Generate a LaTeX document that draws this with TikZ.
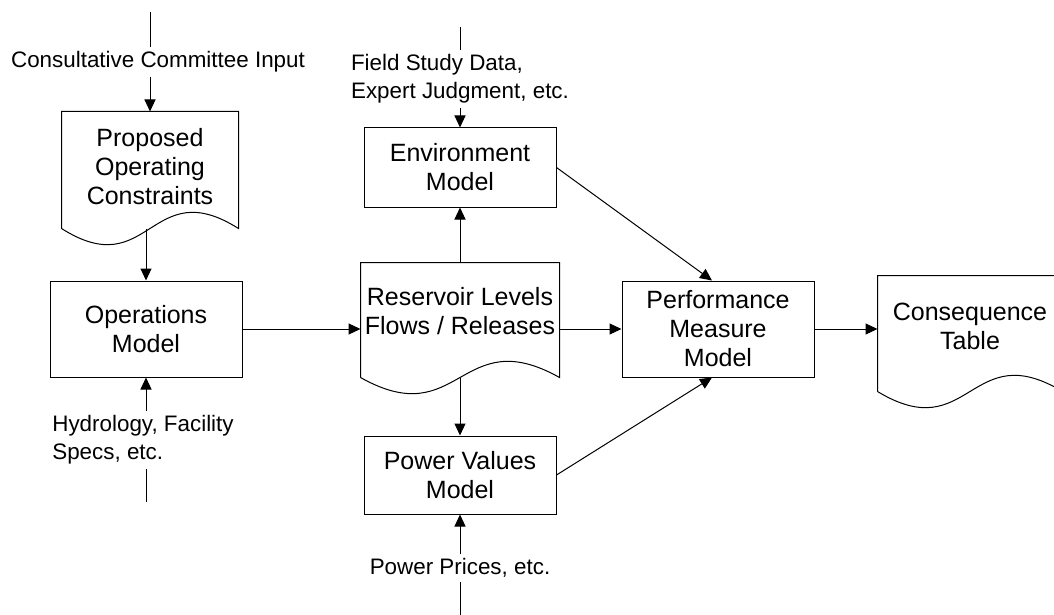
\documentclass[tikz,border=0pt]{standalone}
\usepackage{fontspec}
\setmainfont{Liberation Sans}
\usetikzlibrary{arrows.meta}

\begin{document}
\begin{tikzpicture}[
    x=0.5pt, y=-0.5pt,
    line width=0.5pt,
    >={Triangle[length=6pt,width=5.5pt]},
    model/.style={
        rectangle,
        draw,
        minimum width=96pt,
        minimum height=48pt,
        font=\fontsize{12.5}{14.5}\selectfont,
        align=center
    },
    sheet/.style={
        rectangle,
        minimum height=57.5pt,
        inner sep=0pt,
        text depth=9.5pt,
        font=\fontsize{12.5}{14.5}\selectfont,
        align=center
    },
    input/.style={
        inner sep=2pt,
        font=\fontsize{11.2}{14}\selectfont
    }
]
\useasboundingbox (0,0) rectangle (1054,615);

\node[sheet, minimum width=88pt, minimum height=58pt, text depth=3.5pt] (constraints) at (150,170) {Proposed\\Operating\\Constraints};
\node[sheet, minimum width=99pt, minimum height=57pt] (reservoir) at (460,320) {Reservoir Levels\\Flows / Releases};
\node[sheet, minimum width=92pt, text depth=7.5pt] (consequence) at (970,333.5) {Consequence\\Table};

\foreach \d in {constraints, reservoir, consequence}
    \draw (\d.south west) -- (\d.north west) -- (\d.north east) -- (\d.south east)
        .. controls ([yshift=28pt]\d.south) and ([yshift=-28pt]\d.south) .. (\d.south west);

\node[model] (operations) at (146,329) {Operations\\Model};
\node[model, minimum height=39.5pt] (environment) at (460,167.5) {Environment\\Model};
\node[model, minimum height=39pt] (power) at (460,475) {Power Values\\Model};
\node[model] (performance) at (718,329) {Performance\\Measure\\Model};

\node[input] (committee) at (158,62) {Consultative Committee Input};
\node[input, align=left] (field) at (460,79) {Field Study Data,\\Expert Judgment, etc.};
\node[input, align=left] (hydrology) at (143,440) {Hydrology, Facility\\Specs, etc.};
\node[input] (prices) at (460,568) {Power Prices, etc.};

\coordinate (committee top) at (150,12);
\coordinate (field top) at (460,27);
\coordinate (hydrology end) at (146,502);
\coordinate (prices end) at (460,615);

\draw (committee top) -- (committee top |- committee.north);
\draw[->] (committee top |- committee.south) -- (committee top |- constraints.north);
\draw[->] (constraints.south -| operations.north) -- (operations.north);
\draw (hydrology end) -- (hydrology end |- hydrology.south);
\draw[->] (hydrology end |- hydrology.north) -- (operations.south);

\draw[->] (operations.east) -- (operations.east -| reservoir.west);
\draw[->] (reservoir) -- (environment);
\draw[->] (reservoir) -- (power);
\draw[->] (reservoir.east |- performance.west) -- (performance.west);

\draw (field top) -- (field);
\draw[->] (field) -- (environment);
\draw (prices end) -- (prices);
\draw[->] (prices) -- (power);

\draw[->] (environment.east) -- ([xshift=-3pt]performance.north);
\draw[->] (power.east) -- ([xshift=-3pt]performance.south);
\draw[->] (performance.east) -- (performance.east -| consequence.west);

\end{tikzpicture}
\end{document}
